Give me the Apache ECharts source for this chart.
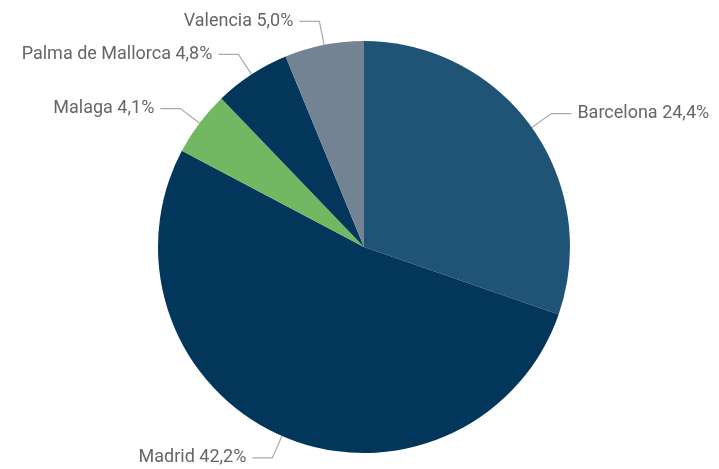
<!DOCTYPE html>
<html>
<head>
<meta charset="utf-8">
<script src="https://cdn.jsdelivr.net/npm/echarts@6/dist/echarts.min.js"></script>
<style>
  html, body { margin: 0; padding: 0; background: #fff; }
  #chart { width: 719px; height: 469px; }
</style>
</head>
<body>
<div id="chart"></div>
<script>
const cities = ['Barcelona', 'Madrid', 'Malaga', 'Palma de Mallorca', 'Valencia']
const shares = [24.4, 42.2, 4.1, 4.8, 5.0]
const colors = ['#1f5477', '#02365a', '#72b862', '#02365a', '#738394']

const chart = echarts.init(document.getElementById('chart'))
chart.setOption({
  animation: false,
  series: [
    {
      type: 'pie',
      center: [364, 247],
      radius: 206,
      startAngle: 90,
      clockwise: true,
      data: cities.map((name, i) => ({
        name: name,
        value: shares[i],
        itemStyle: { color: colors[i] }
      })),
      label: {
        color: '#666',
        fontFamily: 'Roboto',
        fontSize: 18,
        overflow: 'none',
        distanceToLabelLine: 6,
        formatter: p => p.name + ' ' + p.value.toFixed(1).replace('.', ',') + '%'
      },
      labelLine: {
        length: 24,
        length2: 20,
        lineStyle: { color: '#aaa', width: 1.2 }
      }
    }
  ]
})
</script>
</body>
</html>
